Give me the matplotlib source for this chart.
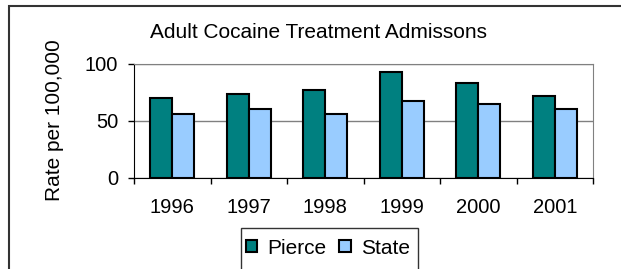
import numpy as np
import matplotlib.pyplot as plt
from matplotlib.patches import Rectangle

plt.rcParams['font.family'] = ['Liberation Sans', 'DejaVu Sans']

# donnees
years = ["1996", "1997", "1998", "1999", "2000", "2001"]
pierce = [70, 74, 77, 93, 83, 72]
state = [56, 60, 56, 67, 65, 60]

W, H = 621, 269
fig = plt.figure(figsize=(W / 100, H / 100), dpi=100)
ax = fig.add_axes([134 / W, 1 - 177.5 / H, (593 - 134) / W, (177.5 - 64) / H])

x = np.arange(len(years))
bw = 0.288
ax.bar(x - bw / 2, pierce, bw, color="#008080", edgecolor="black", linewidth=1.5,
       label="Pierce", zorder=3)
ax.bar(x + bw / 2, state, bw, color="#99CCFF", edgecolor="black", linewidth=1.5,
       label="State", zorder=3)

ax.set_xlim(-0.5, len(years) - 0.5)
ax.set_ylim(0, 100)
ax.set_yticks([0, 50, 100])
ax.yaxis.grid(True, color="#808080", linewidth=1, zorder=0)

ax.set_xticks(x)
ax.set_xticklabels(years)
ax.set_xticks(np.arange(len(years) + 1) - 0.5, minor=True)
ax.tick_params(axis="x", which="major", length=0, pad=14.5, labelsize=14.5)
ax.tick_params(axis="x", which="minor", length=4.3, width=1, color="black")
ax.tick_params(axis="y", length=4.3, width=1, pad=7, labelsize=14.5)

for s in ["top", "right"]:
    ax.spines[s].set_color("#808080")
for s in ["left", "bottom"]:
    ax.spines[s].set_color("black")

fig.text(318 / W, 1 - 38 / H, "Adult Cocaine Treatment Admissons", fontsize=15,
         ha="center", va="baseline")
fig.text(55 / W, 1 - 120.5 / H, "Rate per 100,000", fontsize=15, rotation=90,
         ha="center", va="center")

# cadre exterieur et cadre de legende (coupes par le bord)
fig.patches.append(Rectangle((9 / W, -0.1), 1.2, 1 - 6 / H + 0.1, transform=fig.transFigure,
                             fill=False, edgecolor="#333333", linewidth=1.5))
fig.patches.append(Rectangle((241 / W, -0.1), (418 - 241) / W, 1 - 228 / H + 0.1,
                             transform=fig.transFigure, fill=False, edgecolor="#333333",
                             linewidth=1))

fig.legend(loc="center", bbox_to_anchor=(328 / W, 1 - 248 / H), ncol=2, frameon=False,
           fontsize=15, handlelength=0.55, handleheight=0.55, handletextpad=0.5,
           columnspacing=0.6, borderpad=0, borderaxespad=0)

fig.savefig("out.png", dpi=100)
